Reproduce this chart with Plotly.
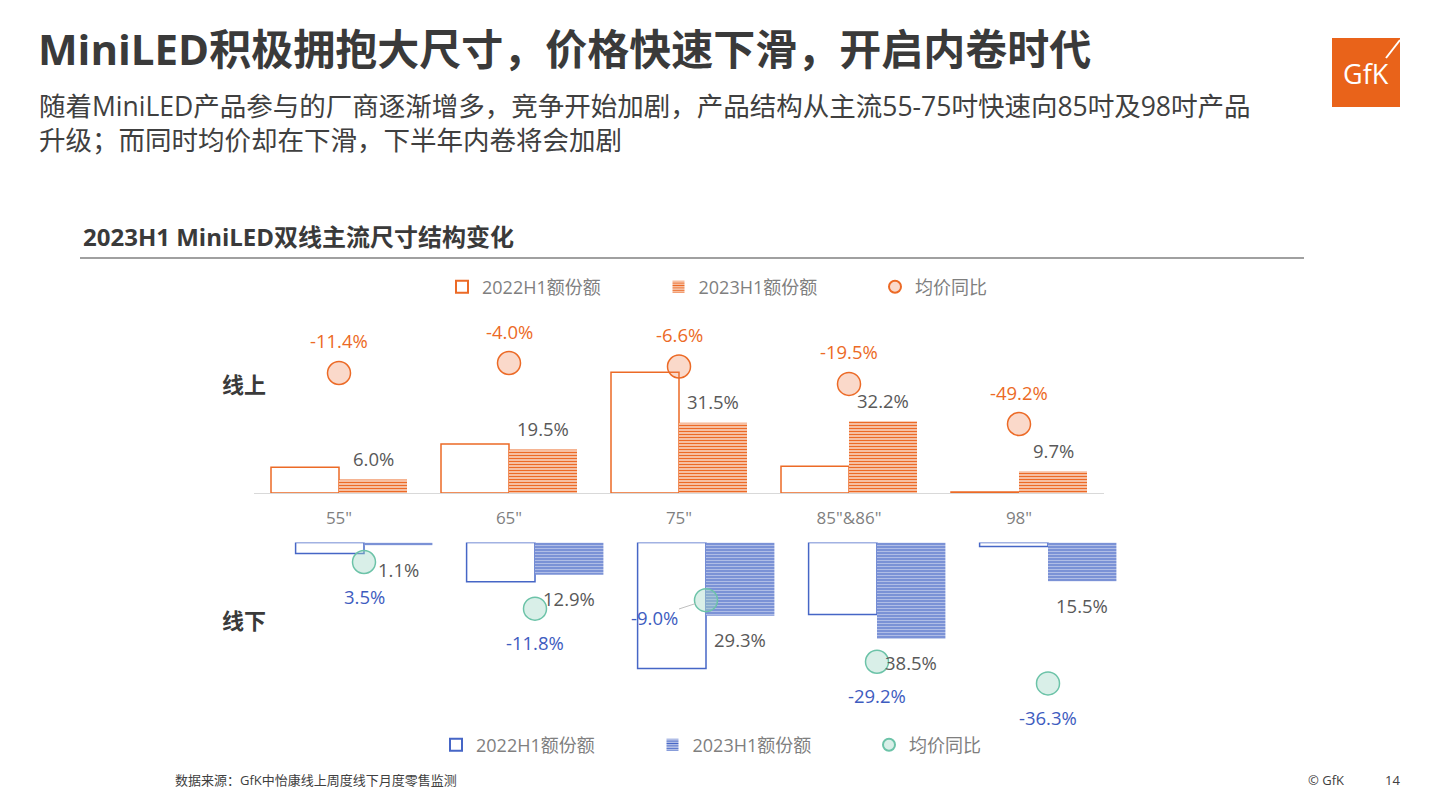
import plotly.graph_objects as go

# ---------------- data ----------------
sizes = ['55"', '65"', '75"', '85"&86"', '98"']
online_2022 = [11.6, 22.0, 54.2, 12.0, 0.5]
online_2023 = [6.0, 19.5, 31.5, 32.2, 9.7]
online_price_yoy = [-11.4, -4.0, -6.6, -19.5, -49.2]
offline_2022 = [4.4, 15.7, 50.4, 28.8, 1.6]
offline_2023 = [1.1, 12.9, 29.3, 38.5, 15.5]
offline_price_yoy = [3.5, -11.8, -9.0, -29.2, -36.3]
series_names = ["2022H1额份额", "2023H1额份额", "均价同比"]

title = "MiniLED积极拥抱大尺寸，价格快速下滑，开启内卷时代"
subtitle_1 = "随着MiniLED产品参与的厂商逐渐增多，竞争开始加剧，产品结构从主流55-75吋快速向85吋及98吋产品"
subtitle_2 = "升级；而同时均价却在下滑，下半年内卷将会加剧"
chart_title = "2023H1 MiniLED双线主流尺寸结构变化"
source_text = "数据来源：GfK中怡康线上周度线下月度零售监测"

# ---------------- style ----------------
OFF = 8  # default page body margin
W, H = 1441 - OFF, 810 - OFF
FONT = "Open Sans, Noto Sans CJK SC, sans-serif"
ORANGE = "#EC6A26"
ORANGE_FILL = "rgba(240,130,80,0.30)"
BLUE = "#4666C6"
BLUE_TXT = "#3E5CC0"
TEAL = "#6CC3A8"
TEAL_FILL = "rgba(160,215,198,0.40)"
GRAY_LBL = "#595959"
GRAY_LEG = "#7F7F7F"
DARK = "#3A3A3A"


def px(x):
    return (x - OFF) / W


def py(y):
    return 1 - (y - OFF) / H


fig = go.Figure()

stripe = dict(shape="-", bgcolor="white", size=3, solidity=0.62, fillmode="replace")

# ---- online (top) ----
fig.add_trace(go.Bar(
    x=sizes, y=online_2022, name=series_names[0], xaxis="x", yaxis="y",
    marker=dict(color="white", line=dict(color=ORANGE, width=1.5)),
    offsetgroup="a", legend="legend", hoverinfo="skip"))
fig.add_trace(go.Bar(
    x=sizes, y=online_2023, name=series_names[1], xaxis="x", yaxis="y",
    marker=dict(color="white", line=dict(width=0),
                pattern=dict(fgcolor=ORANGE, **stripe)),
    offsetgroup="b", legend="legend", hoverinfo="skip"))
fig.add_trace(go.Scatter(
    x=sizes, y=online_price_yoy, name=series_names[2], xaxis="x", yaxis="y2",
    mode="markers",
    marker=dict(size=23, color=ORANGE_FILL, line=dict(color=ORANGE, width=1.5)),
    legend="legend", hoverinfo="skip"))

# ---- offline (bottom) ----
fig.add_trace(go.Bar(
    x=sizes, y=offline_2022, name=series_names[0], xaxis="x2", yaxis="y3",
    marker=dict(color="white", line=dict(color=BLUE, width=1.5)),
    offsetgroup="a", legend="legend2", hoverinfo="skip"))
fig.add_trace(go.Bar(
    x=sizes, y=offline_2023, name=series_names[1], xaxis="x2", yaxis="y3",
    marker=dict(color="white", line=dict(width=0),
                pattern=dict(fgcolor=BLUE, **stripe)),
    offsetgroup="b", legend="legend2", hoverinfo="skip"))
fig.add_trace(go.Scatter(
    x=sizes, y=offline_price_yoy, name=series_names[2], xaxis="x2", yaxis="y4",
    mode="markers",
    marker=dict(size=23, color=TEAL_FILL, line=dict(color=TEAL, width=1.5)),
    legend="legend2", hoverinfo="skip"))

annotations = []
LBL_SIZE = 18.5
lbl_font = dict(family=FONT, size=LBL_SIZE, color=GRAY_LBL)
half_bar_top = 34
half_bar_bot = 34.3

for c, v in zip(sizes, online_2023):
    annotations.append(dict(x=c, y=v, xref="x", yref="y", text=f"{v:.1f}%",
                            showarrow=False, xshift=half_bar_top, yshift=21,
                            font=lbl_font))
for c, v in zip(sizes, online_price_yoy):
    annotations.append(dict(x=c, y=v, xref="x", yref="y2", text=f"{v:.1f}%",
                            showarrow=False, yshift=32,
                            font=dict(family=FONT, size=LBL_SIZE, color=ORANGE)))
for c, v in zip(sizes, offline_2023):
    annotations.append(dict(x=c, y=v, xref="x2", yref="y3", text=f"{v:.1f}%",
                            showarrow=False, xshift=half_bar_bot, yshift=-24,
                            font=lbl_font))
for c, v in zip(sizes, offline_price_yoy):
    if c == '75"':
        annotations.append(dict(x=c, y=v, xref="x2", yref="y4", text=f"{v:.1f}%",
                                showarrow=True, arrowhead=0, arrowwidth=1,
                                arrowcolor="#BFBFBF", ax=-52, ay=17, standoff=11,
                                font=dict(family=FONT, size=LBL_SIZE, color=BLUE_TXT)))
    else:
        annotations.append(dict(x=c, y=v, xref="x2", yref="y4", text=f"{v:.1f}%",
                                showarrow=False, yshift=-34,
                                font=dict(family=FONT, size=LBL_SIZE, color=BLUE_TXT)))

# ---- page texts ----
def txt(x, y, s, size, color, bold=False, anchor="left"):
    annotations.append(dict(x=px(x), y=py(y), xref="paper", yref="paper",
                            text=f"<b>{s}</b>" if bold else s, showarrow=False,
                            xanchor=anchor, yanchor="middle", align="left",
                            font=dict(family=FONT, size=size, color=color)))

txt(36, 48, title, 42, DARK, bold=True)
txt(37, 122.5, subtitle_1 + "<br>" + subtitle_2, 26.5, "#404040")
txt(81, 236, chart_title, 24, DARK, bold=True)
txt(220, 384, "线上", 22, DARK, bold=True)
txt(220, 620, "线下", 22, DARK, bold=True)
txt(173, 780, source_text, 13, "#404040")
txt(1306, 780, "© GfK", 13, "#404040")
txt(1383, 780, "14", 13, "#404040")
txt(1366, 73, "GfK", 27, "white", anchor="center")

shapes = [
    dict(type="line", xref="paper", yref="paper", x0=px(80), x1=px(1304),
         y0=py(258), y1=py(258), line=dict(color="#808080", width=1.5)),
    dict(type="rect", xref="paper", yref="paper", x0=px(1332), x1=px(1400),
         y0=py(107), y1=py(38), fillcolor="#E9631A", line=dict(width=0),
         layer="below"),
    dict(type="line", xref="paper", yref="paper", x0=px(1400), x1=px(1386),
         y0=py(40), y1=py(58), line=dict(color="white", width=2)),
]

leg_common = dict(orientation="h", xanchor="left", yanchor="middle",
                  entrywidth=171.5, entrywidthmode="pixels", itemsizing="constant",
                  font=dict(family=FONT, size=18, color=GRAY_LEG),
                  bgcolor="rgba(0,0,0,0)", itemclick=False, itemdoubleclick=False)

fig.update_layout(
    width=W, height=H, margin=dict(l=0, r=0, t=0, b=0),
    paper_bgcolor="white", plot_bgcolor="rgba(0,0,0,0)",
    font=dict(family=FONT),
    barmode="group", bargap=0.2, bargroupgap=0,
    showlegend=True,
    legend=dict(x=px(442), y=py(287), **leg_common),
    legend2=dict(x=px(436), y=py(745), **leg_common),
    xaxis=dict(domain=[px(254), px(1104)], anchor="y", type="category",
               showline=True, linecolor="#D9D9D9", linewidth=1, ticks="",
               showgrid=False, zeroline=False, ticklabelstandoff=10,
               tickfont=dict(family=FONT, size=17, color=GRAY_LEG), fixedrange=True),
    yaxis=dict(domain=[py(493), py(310)], anchor="x", range=[0, 82.06],
               visible=False, fixedrange=True),
    yaxis2=dict(overlaying="y", anchor="x", range=[-100.3, 35.26],
                visible=False, fixedrange=True),
    xaxis2=dict(domain=[px(278.5), px(1133.5)], anchor="y3", type="category",
                visible=False, showgrid=False, fixedrange=True),
    yaxis3=dict(domain=[py(730), py(542.5)], anchor="x2", range=[75, 0],
                visible=False, fixedrange=True),
    yaxis4=dict(overlaying="y3", anchor="x2", range=[-51.57, 9.9],
                visible=False, fixedrange=True),
    annotations=annotations,
    shapes=shapes,
)

fig.write_html("out.html")
